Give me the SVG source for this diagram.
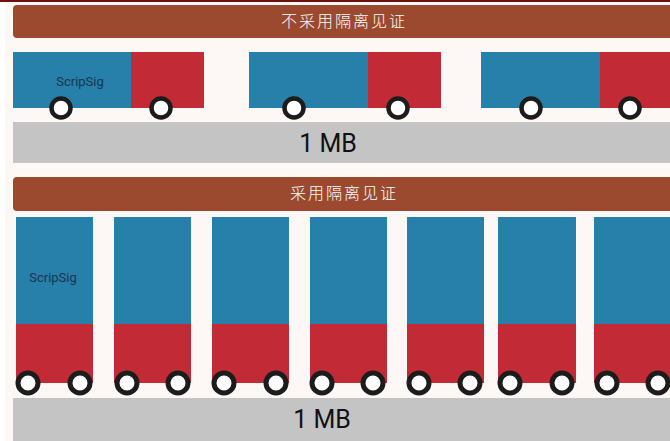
<svg xmlns="http://www.w3.org/2000/svg" width="670" height="441" viewBox="0 0 670 441">
  <style>
    .hdr { fill: #9b4a30; }
    .hdr-text { fill: #ffffff; font-family: "Noto Sans CJK SC", sans-serif; font-size: 16px; font-weight: 300; letter-spacing: 2px; }
    .blue { fill: #2680aa; }
    .red { fill: #c22b35; }
    .road { fill: #c4c4c4; }
    .wheel { fill: #ffffff; stroke: #1c1c1c; stroke-width: 4.5; }
    .wheel-lg { fill: #ffffff; stroke: #1c1c1c; stroke-width: 5; }
    .label { fill: #1b3550; font-family: Roboto, "Liberation Sans", sans-serif; font-size: 13px; }
    .size { fill: #111111; font-family: Roboto, "Liberation Sans", sans-serif; font-size: 25px; }
  </style>

  <!-- page -->
  <rect x="0" y="0" width="670" height="441" fill="#ffffff"/>
  <rect x="5" y="2" width="665" height="439" fill="#fdf8f6"/>
  <rect x="0" y="0" width="670" height="2" fill="#6e1010"/>

  <!-- section 1: without segregated witness -->
  <g id="header-1">
    <rect class="hdr" x="13" y="5" width="670" height="33" rx="4"/>
    <text class="hdr-text" x="344" y="27" text-anchor="middle">不采用隔离见证</text>
  </g>

  <g id="road-1">
    <rect class="road" x="13" y="122" width="657" height="41"/>
    <text class="size" x="328" y="152" text-anchor="middle">1 MB</text>
  </g>

  <g id="tx-1-1">
    <rect class="blue" x="13" y="52" width="118" height="56"/>
    <rect class="red" x="131" y="52" width="73" height="56"/>
    <text class="label" x="80" y="86" text-anchor="middle">ScripSig</text>
    <circle class="wheel" cx="61" cy="108" r="9.5"/>
    <circle class="wheel" cx="161" cy="108" r="9.5"/>
  </g>
  <g id="tx-1-2">
    <rect class="blue" x="249" y="52" width="119" height="56"/>
    <rect class="red" x="368" y="52" width="73" height="56"/>
    <circle class="wheel" cx="294" cy="108" r="9.5"/>
    <circle class="wheel" cx="398" cy="108" r="9.5"/>
  </g>
  <g id="tx-1-3">
    <rect class="blue" x="481" y="52" width="119" height="56"/>
    <rect class="red" x="600" y="52" width="73" height="56"/>
    <circle class="wheel" cx="531" cy="108" r="9.5"/>
    <circle class="wheel" cx="630" cy="108" r="9.5"/>
  </g>

  <!-- section 2: with segregated witness -->
  <g id="header-2">
    <rect class="hdr" x="13" y="177" width="670" height="34" rx="4"/>
    <text class="hdr-text" x="344" y="199" text-anchor="middle">采用隔离见证</text>
  </g>

  <g id="road-2">
    <rect class="road" x="13" y="398" width="657" height="43"/>
    <text class="size" x="322" y="428" text-anchor="middle">1 MB</text>
  </g>

  <g id="tx-2-1">
    <rect class="blue" x="16" y="217" width="77" height="107"/>
    <rect class="red" x="16" y="324" width="77" height="59"/>
    <text class="label" x="53" y="282" text-anchor="middle">ScripSig</text>
    <circle class="wheel-lg" cx="28" cy="383" r="10"/>
    <circle class="wheel-lg" cx="80" cy="383" r="10"/>
  </g>
  <g id="tx-2-2">
    <rect class="blue" x="114" y="217" width="77" height="107"/>
    <rect class="red" x="114" y="324" width="77" height="59"/>
    <circle class="wheel-lg" cx="127" cy="383" r="10"/>
    <circle class="wheel-lg" cx="178" cy="383" r="10"/>
  </g>
  <g id="tx-2-3">
    <rect class="blue" x="212" y="217" width="77" height="107"/>
    <rect class="red" x="212" y="324" width="77" height="59"/>
    <circle class="wheel-lg" cx="224" cy="383" r="10"/>
    <circle class="wheel-lg" cx="276" cy="383" r="10"/>
  </g>
  <g id="tx-2-4">
    <rect class="blue" x="310" y="217" width="77" height="107"/>
    <rect class="red" x="310" y="324" width="77" height="59"/>
    <circle class="wheel-lg" cx="322" cy="383" r="10"/>
    <circle class="wheel-lg" cx="373" cy="383" r="10"/>
  </g>
  <g id="tx-2-5">
    <rect class="blue" x="407" y="217" width="77" height="107"/>
    <rect class="red" x="407" y="324" width="77" height="59"/>
    <circle class="wheel-lg" cx="419" cy="383" r="10"/>
    <circle class="wheel-lg" cx="470" cy="383" r="10"/>
  </g>
  <g id="tx-2-6">
    <rect class="blue" x="498" y="217" width="78" height="107"/>
    <rect class="red" x="498" y="324" width="78" height="59"/>
    <circle class="wheel-lg" cx="510" cy="383" r="10"/>
    <circle class="wheel-lg" cx="562" cy="383" r="10"/>
  </g>
  <g id="tx-2-7">
    <rect class="blue" x="594" y="217" width="78" height="107"/>
    <rect class="red" x="594" y="324" width="78" height="59"/>
    <circle class="wheel-lg" cx="607" cy="383" r="10"/>
    <circle class="wheel-lg" cx="658" cy="383" r="10"/>
  </g>

  <!-- no connectors in this figure -->
  <g id="connectors"/>
</svg>
